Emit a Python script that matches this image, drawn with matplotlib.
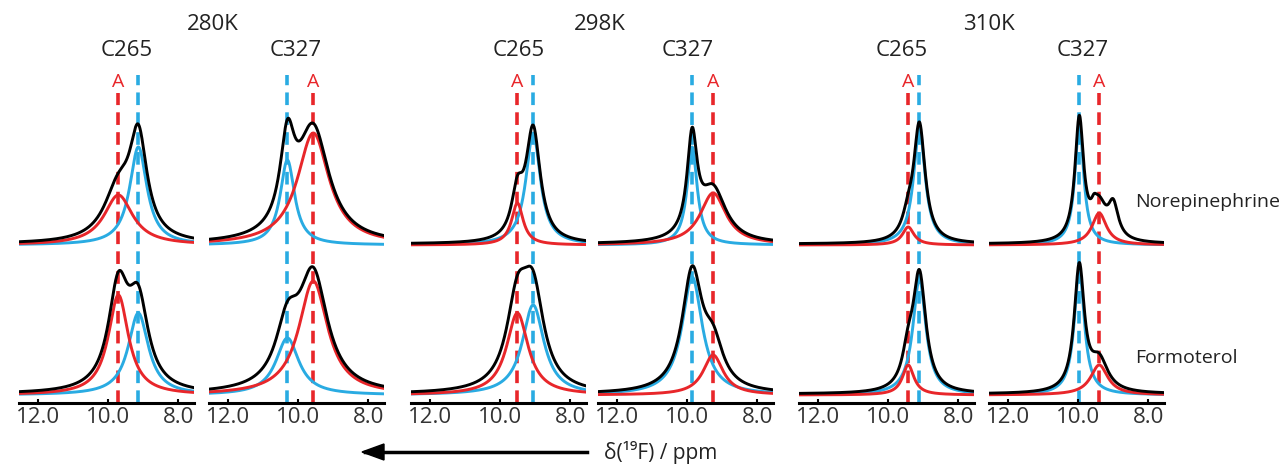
import numpy as np
import matplotlib.pyplot as plt

plt.rcParams['font.family'] = ['Open Sans', 'DejaVu Sans']

temps = ["280K", "298K", "310K"]
sites = ["C265", "C327"]
ligands = ["Norepinephrine", "Formoterol"]

# peak positions (ppm) per panel: 280K C265, 280K C327, 298K C265, 298K C327, 310K C265, 310K C327
blue_ppm = [9.14, 10.31, 9.06, 9.86, 9.11, 9.97]
red_ppm = [9.71, 9.57, 9.51, 9.26, 9.43, 9.40]

# Norepinephrine fits (height, fwhm)
blue_h_ne = [98, 85, 112, 98, 117, 122]
blue_w_ne = [0.6, 0.5, 0.5, 0.35, 0.4, 0.3]
red_h_ne = [50, 112, 42, 52, 18, 32]
red_w_ne = [1.0, 1.1, 0.4, 0.9, 0.4, 0.5]

# Formoterol fits (height, fwhm)
blue_h_fo = [82, 57, 90, 118, 116, 125]
blue_w_fo = [0.7, 0.8, 0.75, 0.7, 0.45, 0.35]
red_h_fo = [100, 114, 82, 40, 30, 30]
red_w_fo = [0.7, 1.0, 0.75, 0.7, 0.4, 0.6]

# extra signal in the measured spectra not covered by the fits
extra_panel = [5, 5]
extra_row = [0, 0]
extra_ppm = [9.55, 9.0]
extra_h = [10, 33]
extra_w = [0.2, 0.35]

tick_vals = [12.0, 10.0, 8.0]
tick_text = ["12.0", "10.0", "8.0"]

RED = "#e8262a"
BLUE = "#29abe2"
W, H = 1287, 466


def lor(x, x0, h, w):
    return h / (1 + ((x - x0) / (w / 2)) ** 2)


fig = plt.figure(figsize=(W / 100, H / 100), dpi=100)
lefts = [19, 209, 411, 598, 799, 989]
x = np.linspace(12.55, 7.55, 600)
base = [158, 8]  # vertical offsets of the two rows

for i in range(6):
    ax = fig.add_axes([lefts[i] / W, (H - 403) / H, 175 / W, 330 / H])
    ax.set_xlim(12.55, 7.55)
    ax.set_ylim(0, 330)
    rows = [(blue_h_ne[i], blue_w_ne[i], red_h_ne[i], red_w_ne[i]),
            (blue_h_fo[i], blue_w_fo[i], red_h_fo[i], red_w_fo[i])]
    ax.plot([blue_ppm[i]] * 2, [0, 328], color=BLUE, lw=2.6, dashes=(3.5, 2), zorder=1)
    ax.plot([red_ppm[i]] * 2, [0, 310], color=RED, lw=2.6, dashes=(3.5, 2), zorder=1)
    ax.text(red_ppm[i], 321, "A", color=RED, ha="center", va="center", fontsize=14)
    for r, (bh, bw, rh, rw) in enumerate(rows):
        b = lor(x, blue_ppm[i], bh, bw)
        rd = lor(x, red_ppm[i], rh, rw)
        tot = b + rd
        for p, rr, e0, eh, ew in zip(extra_panel, extra_row, extra_ppm, extra_h, extra_w):
            if p == i and rr == r:
                tot = tot + lor(x, e0, eh, ew)
        ax.plot(x, base[r] + b, color=BLUE, lw=2.1, zorder=2)
        ax.plot(x, base[r] + rd, color=RED, lw=2.1, zorder=3)
        ax.plot(x, base[r] + tot + 1, color="black", lw=2.1, zorder=4)
    for s in ["top", "left", "right"]:
        ax.spines[s].set_visible(False)
    ax.spines["bottom"].set_linewidth(2.2)
    ax.set_yticks([])
    ax.set_xticks(tick_vals)
    ax.set_xticklabels(tick_text, fontsize=16, color="#333333")
    ax.tick_params(axis="x", direction="in", length=3, width=1.5, pad=3)

for k, t in enumerate(temps):
    cx = [213, 600, 989][k]
    fig.text(cx / W, 1 - 25 / H, t, ha="center", va="center", fontsize=16, color="#222222")
for i in range(6):
    cx = [127, 296, 519, 688, 902, 1083][i]
    fig.text(cx / W, 1 - 50 / H, sites[i % 2], ha="center", va="center", fontsize=16, color="#222222")

fig.text(1135 / W, 1 - 202 / H, ligands[0], ha="left", va="center", fontsize=14, color="#222222")
fig.text(1135 / W, 1 - 358 / H, ligands[1], ha="left", va="center", fontsize=14, color="#222222")

fig.add_artist(plt.Line2D([365 / W, 587 / W], [1 - 452 / H] * 2, color="black", lw=2.5))
fig.patches.append(plt.Polygon([[362 / W, 1 - 452 / H], [384 / W, 1 - 444 / H], [384 / W, 1 - 460 / H]],
                               closed=True, color="black", transform=fig.transFigure))
fig.text(604 / W, 1 - 452 / H, "δ(¹⁹F) / ppm", ha="left", va="center", fontsize=15, color="#222222")

fig.savefig("out.png", dpi=100)
